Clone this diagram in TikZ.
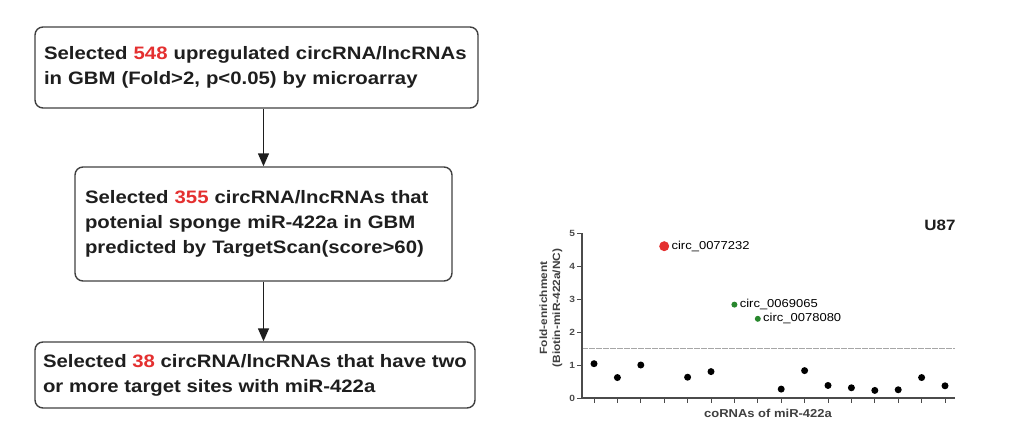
\documentclass[tikz,border=0pt]{standalone}
\usepackage{fontspec}
\setmainfont{Liberation Sans}[FakeStretch=1.13]
\usetikzlibrary{arrows.meta,positioning}
\definecolor{numred}{RGB}{228,48,48}
\definecolor{dotgreen}{RGB}{40,135,45}
\definecolor{ink}{RGB}{30,30,30}
\tikzset{
  filterbox/.style = {shape=rectangle, rounded corners=8pt,
                      draw=ink!85, line width=1.4pt, align=left,
                      font=\fontsize{18}{25}\selectfont\bfseries,
                      text=ink, inner xsep=9pt},
  flowarrow/.style = {draw=ink, line width=1.4pt,
                      -{Triangle[width=11pt,length=13pt]}},
  axisline/.style  = {draw=ink!80, line width=1.2pt},
  datadot/.style   = {circle, fill=black, inner sep=0pt, minimum size=7pt},
  dotlabel/.style  = {font=\fontsize{11.5}{12}\selectfont, inner sep=1pt},
}
\newcommand{\hlnum}[1]{\textcolor{numred}{#1}}

\begin{document}
\begin{tikzpicture}[x=1pt, y=-1pt]
  \useasboundingbox (0,0) rectangle (1024,439);
  \node [filterbox, text width=425pt, minimum height=81pt] (sel548) at (256.5,67.5)
    {Selected \hlnum{548} upregulated circRNA/lncRNAs\\in GBM (Fold>2, p<0.05) by microarray};
  \node [filterbox, text width=357pt, minimum height=114pt, inner xsep=10pt] (sel355) at (263.5,224)
    {Selected \hlnum{355} circRNA/lncRNAs that\\potenial sponge miR-422a in GBM\\predicted by TargetScan(score>60)};
  \node [filterbox, minimum width=440pt, minimum height=66pt, inner xsep=2pt] (sel38) at (255,375)
    {Selected \hlnum{38} circRNA/lncRNAs that have two\\or more target sites with miR-422a};
  \draw [flowarrow] (sel548.south -| sel355.north) -- (sel355.north);
  \draw [flowarrow] (sel355.south) -- (sel355.south |- sel38.north);

  \draw [gray!70, line width=0.8pt, dash pattern=on 6pt off 1pt] (582,348.5) -- (955,348.5);
  \draw [axisline] (582,233) -- (582,398) -- (955,398);
  \foreach \v in {0,...,5}
    \draw [axisline, line width=0.9pt] (582,{398-33*\v}) -- ++(-5,0)
      node [left, inner sep=1.5pt, font=\fontsize{9}{9}\selectfont\bfseries, text=ink!80] (ytick\v) {\v};
  \foreach \i in {1,...,16}
    \draw [axisline, line width=0.9pt] ({570.6+23.4*\i},398) -- ++(0,5);
  \foreach \i/\v in {1/1.04, 2/0.62, 3/1.0, 5/0.63, 6/0.8, 9/0.27, 10/0.83,
                     11/0.38, 12/0.31, 13/0.23, 14/0.25, 15/0.62, 16/0.37}
    \node [datadot] (pt\i) at ({570.6+23.4*\i},{398-33*\v}) {};
  \node [datadot, fill=numred, minimum size=10pt] (pt4) at ({570.6+23.4*4},{398-33*4.6}) {};
  \node [datadot, fill=dotgreen, minimum size=6pt] (pt7) at ({570.6+23.4*7},{398-33*2.83}) {};
  \node [datadot, fill=dotgreen, minimum size=6pt] (pt8) at ({570.6+23.4*8},{398-33*2.4}) {};
  \node [dotlabel, right=1pt of pt4] (lab4) {circ\_0077232};
  \node [dotlabel, right=1pt of pt7] (lab7) {circ\_0069065};
  \node [dotlabel, right=1pt of pt8] (lab8) {circ\_0078080};

  \node [font=\fontsize{15}{15}\selectfont\bfseries, text=ink] (cellline) at (940,225) {U87};
  \node [font=\fontsize{11.5}{11.5}\selectfont\bfseries, text=ink!85] (xlabel) at (768,413) {coRNAs of miR-422a};
  \node [rotate=90, align=center, font=\fontsize{10.5}{13}\selectfont\bfseries, text=ink!85] (ylabel) at (551,308)
    {Fold-enrichment\\(Biotin-miR-422a/NC)};
\end{tikzpicture}
\end{document}
